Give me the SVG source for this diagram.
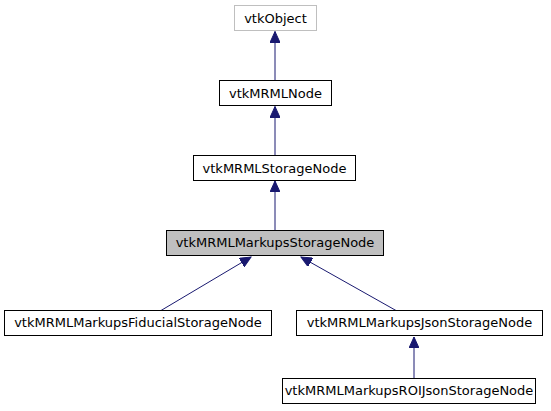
<svg xmlns="http://www.w3.org/2000/svg" width="551" height="411" viewBox="0 0 551 411">
<style>
.n rect{fill:#fff;stroke:#000;stroke-width:1}
.n text{font-family:"DejaVu Sans",sans-serif;font-size:13px;text-anchor:middle;fill:#000}
.e{stroke:#191970;stroke-width:1;fill:none}
</style>
<defs>
<marker id="ah" markerWidth="12" markerHeight="10" refX="11" refY="5" orient="auto" markerUnits="userSpaceOnUse">
<path d="M0,0 L11,5 L0,10 z" fill="#191970" stroke="#191970"/>
</marker>
</defs>
<rect width="551" height="411" fill="#fff"/>
<g id="connectors">
<line class="e" x1="275" y1="80" x2="275" y2="31.5" marker-end="url(#ah)"/>
<line class="e" x1="275" y1="155" x2="275" y2="106.5" marker-end="url(#ah)"/>
<line class="e" x1="275" y1="230" x2="275" y2="181" marker-end="url(#ah)"/>
<line class="e" x1="161" y1="310.5" x2="251" y2="257" marker-end="url(#ah)"/>
<line class="e" x1="396" y1="310.5" x2="301" y2="257" marker-end="url(#ah)"/>
<line class="e" x1="414" y1="378" x2="414" y2="337" marker-end="url(#ah)"/>
</g>
<g id="vtkObject" class="n"><rect x="234.5" y="5.5" width="82" height="25" style="stroke:#bfbfbf"/><text x="275.5" y="22.5">vtkObject</text></g>
<g id="vtkMRMLNode" class="n"><rect x="219.5" y="80.5" width="112" height="25"/><text x="275.5" y="97.5">vtkMRMLNode</text></g>
<g id="vtkMRMLStorageNode" class="n"><rect x="193.5" y="155.5" width="162" height="25"/><text x="274.5" y="172.5">vtkMRMLStorageNode</text></g>
<g id="vtkMRMLMarkupsStorageNode" class="n"><rect x="166.5" y="230.5" width="217" height="25" style="fill:#bfbfbf"/><text x="275" y="247">vtkMRMLMarkupsStorageNode</text></g>
<g id="vtkMRMLMarkupsFiducialStorageNode" class="n"><rect x="4.5" y="310.5" width="267" height="25"/><text x="138" y="327">vtkMRMLMarkupsFiducialStorageNode</text></g>
<g id="vtkMRMLMarkupsJsonStorageNode" class="n"><rect x="296.5" y="310.5" width="246" height="25"/><text x="419.5" y="327">vtkMRMLMarkupsJsonStorageNode</text></g>
<g id="vtkMRMLMarkupsROIJsonStorageNode" class="n"><rect x="282.5" y="378.5" width="253" height="25"/><text x="409" y="395">vtkMRMLMarkupsROIJsonStorageNode</text></g>
</svg>
